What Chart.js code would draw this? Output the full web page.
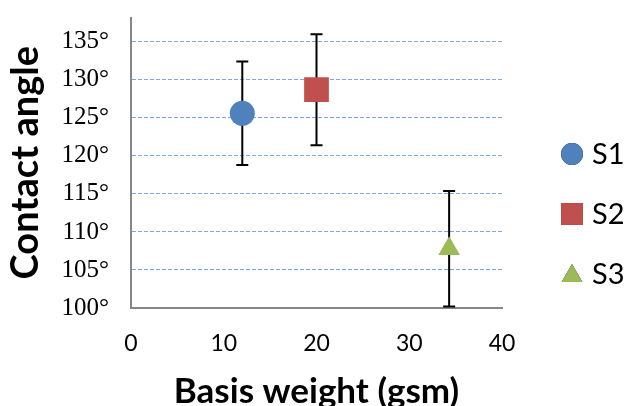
<!DOCTYPE html>
<html>
<head>
<meta charset="utf-8">
<script src="https://cdn.jsdelivr.net/npm/chart.js@4.4.0/dist/chart.umd.min.js"></script>
<style>
  html, body { margin: 0; padding: 0; background: #fff; }
  #wrap { width: 629px; height: 406px; }
</style>
</head>
<body>
<div id="wrap"><canvas id="chart" width="629" height="406"></canvas></div>
<script>
// data
const seriesNames = ['S1', 'S2', 'S3'];
const basisWeight = [12, 20, 34.3];
const contactAngle = [125.6, 128.7, 107.8];
const angleError = [6.8, 7.3, 7.6];
const seriesColors = ['#4F81BD', '#C0504D', '#9BBB59'];
const markerStyles = ['circle', 'rect', 'triangle'];
const markerSizes = [12.5, 17.5, 12.5];
const yTicks = [100, 105, 110, 115, 120, 125, 130, 135];

// error bars, drawn under the markers
const errorBars = {
    id: 'errorBars',
    beforeDatasetsDraw(chart) {
        const ctx = chart.ctx;
        const xs = chart.scales.x;
        const ys = chart.scales.y;
        ctx.save();
        ctx.strokeStyle = '#000';
        ctx.lineWidth = 2;
        chart.data.datasets.forEach(ds => {
            ds.data.forEach(p => {
                const x = xs.getPixelForValue(p.x);
                const top = ys.getPixelForValue(p.y + p.err);
                const bot = ys.getPixelForValue(p.y - p.err);
                ctx.beginPath();
                ctx.moveTo(x, top); ctx.lineTo(x, bot);
                ctx.moveTo(x - 6, top); ctx.lineTo(x + 6, top);
                ctx.moveTo(x - 6, bot); ctx.lineTo(x + 6, bot);
                ctx.stroke();
            });
        });
        ctx.restore();
    }
};

// legend on the right
const sideLegend = {
    id: 'sideLegend',
    afterDraw(chart) {
        const ctx = chart.ctx;
        ctx.save();
        chart.data.datasets.forEach((ds, i) => {
            const x = 572;
            const y = 154 + 60 * i;
            let r = 11;
            if (ds.pointStyle === 'rect') r = 15.5;
            if (ds.pointStyle === 'triangle') r = 12;
            Chart.helpers.drawPoint(ctx, {pointStyle: ds.pointStyle, radius: r, borderWidth: 0}, x, y + (ds.pointStyle === 'triangle' ? 2 : 0));
            ctx.fillStyle = ds.backgroundColor;
            ctx.fill();
            ctx.fillStyle = '#000';
            ctx.font = '29px Lato';
            ctx.textBaseline = 'middle';
            ctx.textAlign = 'left';
            ctx.fillText(ds.label, 592, y + 1);
        });
        ctx.restore();
    }
};

const datasets = seriesNames.map((name, i) => ({
    label: name,
    data: [{x: basisWeight[i], y: contactAngle[i], err: angleError[i]}],
    pointStyle: markerStyles[i],
    pointRadius: markerSizes[i],
    pointHoverRadius: markerSizes[i],
    backgroundColor: seriesColors[i],
    borderColor: seriesColors[i],
    borderWidth: 0
}));

const config = {
    type: 'scatter',
    data: { datasets: datasets },
    plugins: [errorBars, sideLegend],
    options: {
        responsive: false,
        animation: false,
        layout: { padding: { top: 13, right: 127, left: 0, bottom: 0 } },
        plugins: {
            legend: { display: false },
            tooltip: { enabled: false }
        },
        scales: {
            x: {
                type: 'linear',
                min: 0,
                max: 40,
                ticks: { stepSize: 10, padding: 22, color: '#000', font: { family: 'Lato', size: 23 } },
                grid: { color: 'transparent', drawTicks: false },
                border: { display: true, color: '#868686', width: 2 },
                title: {
                    display: true,
                    text: 'Basis weight (gsm)',
                    color: '#000',
                    font: { family: 'Lato', size: 35, weight: 'bold', lineHeight: 0.8 },
                    padding: { top: 0, bottom: 0 }
                },
                afterFit: s => { s.height = 98; s.paddingLeft = 0; s.paddingRight = 0; }
            },
            y: {
                min: 100,
                max: 138.2,
                afterBuildTicks: s => { s.ticks = yTicks.map(v => ({ value: v })); },
                ticks: {
                    padding: 22,
                    color: '#000',
                    font: { family: 'Liberation Serif', size: 25 },
                    callback: v => v + '°'
                },
                grid: {
                    color: c => (c.tick && c.tick.value === 100) ? 'transparent' : '#7FA7E6',
                    lineWidth: 1,
                    drawTicks: false
                },
                border: { display: true, color: '#868686', width: 2, dash: [4, 2] },
                title: {
                    display: true,
                    text: 'Contact angle',
                    color: '#000',
                    font: { family: 'Lato', size: 38, weight: 'bold' },
                    padding: { top: 3, bottom: 0 }
                },
                afterFit: s => { s.width = 131; s.paddingTop = 0; s.paddingBottom = 0; }
            }
        }
    }
};

const chart = new Chart(document.getElementById('chart').getContext('2d'), config);
</script>
</body>
</html>
